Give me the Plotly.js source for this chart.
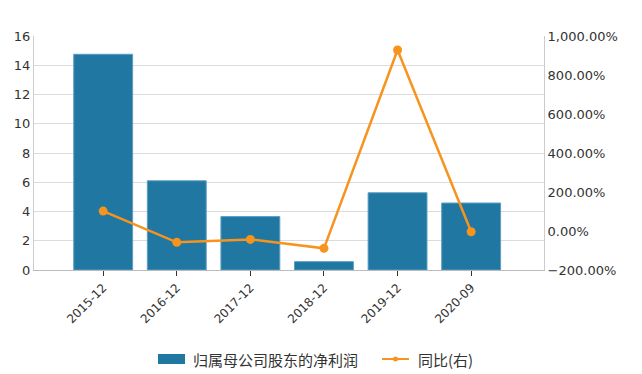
<!DOCTYPE html>
<html>
<head>
<meta charset="utf-8">
<script src="https://cdn.plot.ly/plotly-3.0.1.min.js"></script>
<style>html,body{margin:0;padding:0;background:#fff;}#chart{width:642px;height:374px;}</style>
</head>
<body>
<div id="chart"></div>
<script>
const categories = ["2015-12", "2016-12", "2017-12", "2018-12", "2019-12", "2020-09"];
const netProfit = [14.75, 6.1, 3.65, 0.57, 5.28, 4.58];
const yoyPct = [102, -58, -43, -89, 928, -4];
const barName = "归属母公司股东的净利润";
const lineName = "同比(右)";

const font = "DejaVu Sans, Verdana, sans-serif";
const cjkFont = "Noto Sans CJK SC, " + font;
const barColor = "#1f77a2";
const lineColor = "#f7931e";

const M = {l: 34, r: 98, t: 36, b: 104};
const W = 642, H = 374;
const pw = W - M.l - M.r, ph = H - M.t - M.b;
const px = v => (v - M.l) / pw;          // pixel -> paper x
const py = v => (H - M.b - v) / ph;      // pixel -> paper y

const traces = [
  {
    type: "bar", x: categories, y: netProfit, name: barName,
    marker: {color: barColor, line: {color: "#5b9ec4", width: 1}},
    width: 0.8, hoverinfo: "skip", showlegend: false
  },
  {
    type: "scatter", mode: "lines+markers", x: categories, y: yoyPct, name: lineName,
    yaxis: "y2", showlegend: false,
    line: {color: lineColor, width: 2.5},
    marker: {color: lineColor, size: 9}
  }
];

const legendY = 359;
const shapes = [
  {type: "rect", xref: "paper", yref: "paper", x0: px(158), x1: px(185), y0: py(364), y1: py(354),
   fillcolor: barColor, line: {width: 0}},
  {type: "line", xref: "paper", yref: "paper", x0: px(382), x1: px(409), y0: py(legendY), y1: py(legendY),
   line: {color: lineColor, width: 2}},
  {type: "circle", xref: "paper", yref: "paper", x0: px(393), x1: px(398), y0: py(legendY + 2.5), y1: py(legendY - 2.5),
   fillcolor: lineColor, line: {width: 0}}
];
const annotations = [
  {xref: "paper", yref: "paper", x: px(191), y: py(legendY), xanchor: "left", yanchor: "middle",
   text: barName, showarrow: false, font: {family: cjkFont, size: 15, color: "#333"}},
  {xref: "paper", yref: "paper", x: px(416), y: py(legendY), xanchor: "left", yanchor: "middle",
   text: lineName, showarrow: false, font: {family: cjkFont, size: 15, color: "#333"}}
];

const layout = {
  width: W, height: H,
  margin: M,
  paper_bgcolor: "#fff", plot_bgcolor: "#fff",
  font: {family: font, size: 12, color: "#333"},
  showlegend: false,
  shapes: shapes,
  annotations: annotations,
  bargap: 0.2,
  xaxis: {
    type: "category", range: [-0.94, 5.99], tickangle: -45, automargin: false,
    showline: true, linecolor: "#bbb", linewidth: 1,
    ticks: "outside", ticklen: 5, tickcolor: "#333",
    showgrid: false, tickfont: {size: 12, color: "#333"}
  },
  yaxis: {
    range: [0, 16], dtick: 2, showline: true, linecolor: "#ccc", linewidth: 1, automargin: false,
    gridcolor: "#dcdcdc", gridwidth: 1, ticks: "", zeroline: false,
    tickfont: {size: 13, color: "#333"}
  },
  yaxis2: {
    overlaying: "y", side: "right", range: [-200, 1000], dtick: 200, automargin: false,
    tickformat: ",.2f", ticksuffix: "%", showgrid: false, zeroline: false,
    showline: true, linecolor: "#ccc", linewidth: 1, ticks: "",
    tickfont: {size: 13, color: "#333"}
  }
};
Plotly.newPlot("chart", traces, layout, {displayModeBar: false, staticPlot: true});
</script>
</body>
</html>
